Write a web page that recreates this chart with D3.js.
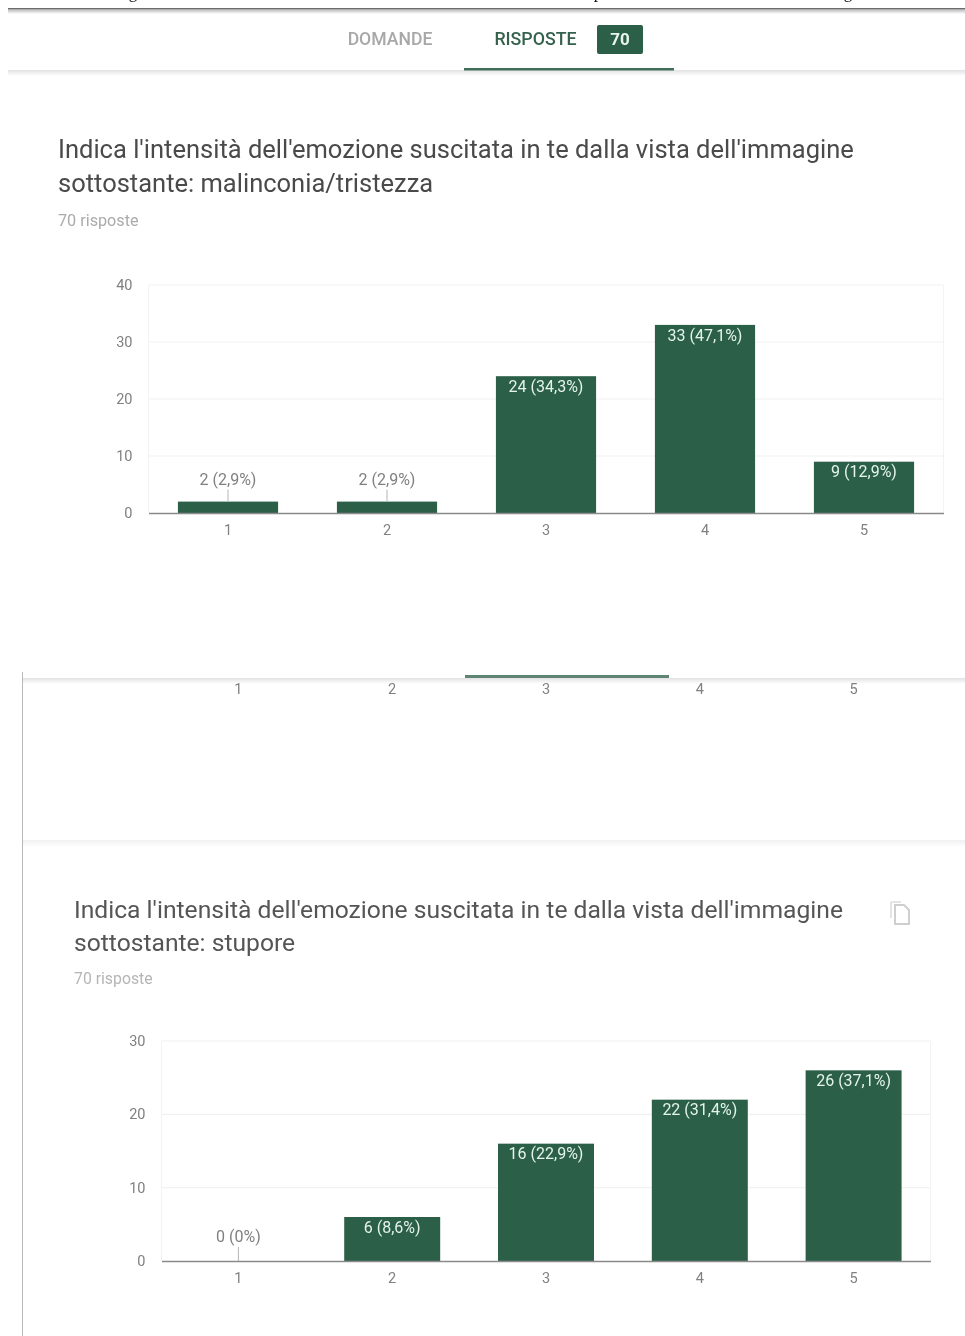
<!DOCTYPE html>
<html><head><meta charset="utf-8">
<script src="https://cdn.jsdelivr.net/npm/d3@7"></script>
<style>
html,body{margin:0;padding:0;background:#fff;overflow:hidden}
svg{display:block;filter:blur(0.6px)}
text{font-family:Roboto,sans-serif}
</style></head><body>
<svg id="c" width="965" height="1336"></svg>
<script>
const categories = ["1","2","3","4","5"];
const valuesTristezza = [2,2,24,33,9];
const labelsTristezza = ["2 (2,9%)","2 (2,9%)","24 (34,3%)","33 (47,1%)","9 (12,9%)"];
const ticksTristezza = [0,10,20,30,40];
const valuesStupore = [0,6,16,22,26];
const labelsStupore = ["0 (0%)","6 (8,6%)","16 (22,9%)","22 (31,4%)","26 (37,1%)"];
const ticksStupore = [0,10,20,30];
const titleQuestion = "Indica l'intensità dell'emozione suscitata in te dalla vista dell'immagine";
const titleTristezza = "sottostante: malinconia/tristezza";
const titleStupore = "sottostante: stupore";
const responses = "70 risposte";
const GREEN = "#2b5f47";

const svg = d3.select("#c");
const defs = svg.append("defs");
const lg = (id, stops) => {
  const g = defs.append("linearGradient").attr("id",id).attr("x1",0).attr("x2",0).attr("y1",0).attr("y2",1);
  stops.forEach(s=>g.append("stop").attr("offset",s[0]).attr("stop-color",s[1]));
};
lg("sTop",[[0,"#4a4a4a"],[0.3,"#c0c0c0"],[1,"#ffffff"]]);
lg("sTab",[[0,"#e2e2e2"],[1,"#ffffff"]]);
lg("sSep",[[0,"#f0f0f0"],[1,"#ffffff"]]);

const txt = (x,y,s,size,fill,anchor="start",weight=400,base="auto") =>
  svg.append("text").attr("x",x).attr("y",y).attr("font-size",size).attr("fill",fill)
     .attr("text-anchor",anchor).attr("font-weight",weight).attr("dominant-baseline",base).text(s);

// cropped line of the page above
[[133,"g"],[598,"p"],[848,"g"]].forEach(d=>{
  svg.append("text").attr("x",d[0]).attr("y",-2).attr("text-anchor","middle")
    .attr("font-size",17).attr("fill","#111").style("font-family","'Liberation Serif',serif").text(d[1]);
});
svg.append("rect").attr("x",8).attr("y",8).attr("width",957).attr("height",6).attr("fill","url(#sTop)");

// tab bar
txt(390,45,"DOMANDE",17.6,"#a8a8a8","middle",500);
txt(535.5,45,"RISPOSTE",17.8,"#35614d","middle",500);
svg.append("rect").attr("x",597).attr("y",25).attr("width",46).attr("height",29).attr("rx",2).attr("fill",GREEN);
txt(620,45,"70",17,"#e8f5ee","middle",700);
svg.append("rect").attr("x",8).attr("y",70).attr("width",957).attr("height",6).attr("fill","url(#sTab)");
svg.append("rect").attr("x",464).attr("y",68).attr("width",210).attr("height",2.5).attr("fill","#3f6f59");

function chart(o){
  const x = d3.scaleBand().domain(categories).range([o.left,o.right]).paddingInner(o.pad).paddingOuter(o.pad/2);
  const y = d3.scaleLinear().domain([0,o.ticks[o.ticks.length-1]]).range([o.zero,o.top]);
  const grid = svg.append("g");
  grid.selectAll("line").data(o.ticks.slice(1)).join("line")
    .attr("x1",o.left).attr("x2",o.right).attr("y1",d=>y(d)).attr("y2",d=>y(d))
    .attr("stroke","#f1f1f1").attr("stroke-width",1.2);
  grid.append("line").attr("x1",o.left).attr("x2",o.left).attr("y1",o.top).attr("y2",o.zero).attr("stroke","#f3f3f3");
  grid.append("line").attr("x1",o.right).attr("x2",o.right).attr("y1",o.top).attr("y2",o.zero).attr("stroke","#f3f3f3");

  const yAxis = svg.append("g").attr("transform",`translate(${o.left-16},0)`)
    .call(d3.axisLeft(y).tickValues(o.ticks).tickSize(0).tickPadding(0));
  yAxis.select(".domain").remove();
  yAxis.selectAll("text").attr("font-size",14.5).attr("fill","#808080").style("font-family","Roboto,sans-serif");

  svg.append("g").selectAll("rect").data(categories).join("rect")
    .attr("x",d=>x(d)).attr("width",x.bandwidth())
    .attr("y",(d,i)=>y(o.values[i])).attr("height",(d,i)=>y(0)-y(o.values[i]))
    .attr("fill",GREEN);

  const xAxis = svg.append("g").attr("transform",`translate(0,${o.zero})`)
    .call(d3.axisBottom(x).tickSize(0).tickPadding(12));
  xAxis.select(".domain").attr("stroke","#8a8a8a").attr("stroke-width",1.6);
  xAxis.selectAll("text").attr("font-size",14.5).attr("fill","#808080").style("font-family","Roboto,sans-serif");

  categories.forEach((c,i)=>{
    const cx = x(c)+x.bandwidth()/2, v = o.values[i];
    if (v < o.outside){
      svg.append("line").attr("x1",cx).attr("x2",cx).attr("y1",y(v)-o.leader).attr("y2",y(v))
        .attr("stroke","#b5b5b5").attr("stroke-width",1);
      txt(cx,y(v)-o.leader-9,o.labels[i],16,"#808080","middle",400,"middle");
    } else {
      txt(cx,y(v)+11.5,o.labels[i],16,"#e4f4ec","middle",400,"middle");
    }
  });
  return x;
}

// first card
txt(58,158,titleQuestion,25.5,"#4a4a4a");
txt(58,192,titleTristezza,25.5,"#4a4a4a");
txt(58,226,responses,16.2,"#ababab");
chart({left:148.5,right:943.5,pad:0.37,top:285,zero:513,ticks:ticksTristezza,values:valuesTristezza,labels:labelsTristezza,outside:3,leader:12});

// second screenshot
svg.append("rect").attr("x",22).attr("y",678).attr("width",943).attr("height",6).attr("fill","url(#sTab)");
svg.append("rect").attr("x",465).attr("y",675).attr("width",204).attr("height",3).attr("fill","#5f8574");
svg.append("line").attr("x1",22.5).attr("x2",22.5).attr("y1",672).attr("y2",1336).attr("stroke","#b8b8b8").attr("stroke-width",1);
svg.append("rect").attr("x",23).attr("y",840).attr("width",942).attr("height",7).attr("fill","url(#sSep)");
txt(74,918,titleQuestion,24.65,"#555555");
txt(74,951,titleStupore,24.65,"#555555");
txt(74,984,responses,15.8,"#b5b5b5");
// copy icon
svg.append("path").attr("d","M895 905h9l5 5v14h-14z").attr("fill","none").attr("stroke","#cfcfcf").attr("stroke-width",2);
svg.append("path").attr("d","M891 902h10M891 902v16").attr("fill","none").attr("stroke","#dcdcdc").attr("stroke-width",1.5);

const x2 = chart({left:161.5,right:930.5,pad:0.376,top:1041,zero:1261,ticks:ticksStupore,values:valuesStupore,labels:labelsStupore,outside:1,leader:14});

// scrolled axis labels from the chart under the tab bar
const ghost = svg.append("g").attr("transform","translate(0,679)")
  .call(d3.axisBottom(x2).tickSize(0).tickPadding(5));
ghost.select(".domain").remove();
ghost.selectAll("text").attr("font-size",14.5).attr("fill","#808080").style("font-family","Roboto,sans-serif");
</script>
</body></html>
